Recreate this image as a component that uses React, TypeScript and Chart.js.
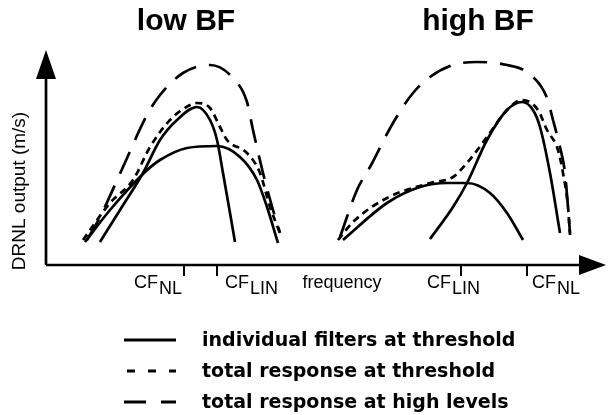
import React, { useEffect, useRef } from 'react';
import { Chart, registerables } from 'chart.js';

Chart.register(...registerables);

// Units: x = arbitrary frequency axis (0..560), y = arbitrary DRNL output (0..215)
const lowNarrowFilter: [number, number][] = [
  [54, 23], [74, 55], [97, 92], [114, 125], [131, 145], [151, 158], [164, 145], [171, 125], [177, 92], [184, 52], [189, 23],
];
const lowWideFilter: [number, number][] = [
  [39, 23], [64, 55], [99, 93], [114, 105], [141, 117], [171, 119], [194, 108], [211, 85], [221, 58], [232, 22],
];
const lowTotalThreshold: [number, number][] = [
  [37, 25], [64, 62], [87, 85], [104, 118], [124, 145], [144, 160], [151, 162], [164, 157], [174, 138], [181, 125], [201, 112], [214, 92], [224, 58], [234, 32],
];
const lowTotalHigh: [number, number][] = [
  [41, 25], [54, 48], [77, 98], [101, 150], [114, 170], [137, 192], [164, 200], [187, 187], [201, 163], [207, 135], [217, 92], [227, 55], [234, 32],
];
const highWideFilter: [number, number][] = [
  [297, 25], [341, 62], [374, 78], [401, 82], [421, 82], [444, 72], [461, 52], [477, 25],
];
const highNarrowFilter: [number, number][] = [
  [384, 26], [407, 58], [421, 82], [441, 125], [461, 155], [476, 163], [487, 155], [494, 138], [504, 92], [514, 32],
];
const highTotalThreshold: [number, number][] = [
  [292, 25], [307, 43], [341, 67], [384, 82], [407, 88], [421, 102], [441, 128], [461, 155], [476, 165], [492, 155], [501, 135], [512, 115], [517, 92], [522, 58], [524, 30],
];
const highTotalHigh: [number, number][] = [
  [294, 28], [311, 75], [324, 98], [347, 142], [367, 172], [384, 188], [407, 200], [431, 203], [461, 200], [482, 192], [501, 167], [507, 145], [514, 118], [519, 92], [522, 58], [524, 32],
];

const tickValues = [138, 171, 415, 481];
const tickMain = ['CF', 'CF', 'CF', 'CF'];
const tickSub = ['NL', 'LIN', 'LIN', 'NL'];
const axisWord = 'frequency';
const axisWordValue = 296;
const yAxisLabel = 'DRNL output (m/s)';
const panelTitles = ['low BF', 'high BF'];
const panelTitleValues = [140, 432];
const legendLabels = [
  'individual filters at threshold',
  'total response at threshold',
  'total response at high levels',
];

const SOLID: number[] = [];
const SHORT = [7, 5];
const LONG = [24, 13];

function ds(data: [number, number][], dash: number[]) {
  return {
    data,
    borderColor: '#000',
    borderWidth: 2.7,
    borderDash: dash,
    pointRadius: 0,
    fill: false,
    cubicInterpolationMode: 'monotone' as const,
  };
}

const decorPlugin = {
  id: 'decor',
  afterDraw(chart: any) {
    const ctx: CanvasRenderingContext2D = chart.ctx;
    const xs = chart.scales.x;
    const ys = chart.scales.y;
    const x0 = xs.getPixelForValue(0);
    const y0 = ys.getPixelForValue(0);
    const yTop = ys.getPixelForValue(ys.max);
    const xRight = xs.getPixelForValue(xs.max);
    ctx.save();
    ctx.fillStyle = '#000';
    ctx.strokeStyle = '#000';
    ctx.setLineDash([]);
    // axes
    ctx.lineWidth = 2.7;
    ctx.beginPath();
    ctx.moveTo(x0, y0);
    ctx.lineTo(x0, yTop + 26);
    ctx.moveTo(x0, y0);
    ctx.lineTo(xRight - 24, y0);
    ctx.stroke();
    // arrowheads
    ctx.beginPath();
    ctx.moveTo(x0, yTop);
    ctx.lineTo(x0 - 10, yTop + 29);
    ctx.lineTo(x0 + 10, yTop + 29);
    ctx.closePath();
    ctx.fill();
    ctx.beginPath();
    ctx.moveTo(xRight, y0);
    ctx.lineTo(xRight - 27, y0 - 10);
    ctx.lineTo(xRight - 27, y0 + 10);
    ctx.closePath();
    ctx.fill();
    // ticks
    ctx.lineWidth = 2;
    tickValues.forEach((v) => {
      const px = xs.getPixelForValue(v);
      ctx.beginPath();
      ctx.moveTo(px, y0);
      ctx.lineTo(px, y0 + 11);
      ctx.stroke();
    });
    // tick labels with subscripts
    ctx.font = '18px Arial, "Liberation Sans", sans-serif';
    ctx.textBaseline = 'alphabetic';
    const base = y0 + 23;
    const offsets = [-2, 8, -34, 5];
    tickValues.forEach((v, i) => {
      const px = xs.getPixelForValue(v);
      const wMain = ctx.measureText(tickMain[i]).width;
      const wSub = ctx.measureText(tickSub[i]).width;
      const total = wMain + 1 + wSub;
      let start = px + offsets[i];
      if (i === 0) start = px + offsets[i] - total;
      ctx.textAlign = 'left';
      ctx.fillText(tickMain[i], start, base);
      ctx.fillText(tickSub[i], start + wMain + 1, base + 6);
    });
    ctx.textAlign = 'center';
    ctx.fillText(axisWord, xs.getPixelForValue(axisWordValue), base);
    // y label
    ctx.save();
    ctx.font = '19px Arial, "Liberation Sans", sans-serif';
    ctx.translate(20, 191);
    ctx.rotate(-Math.PI / 2);
    ctx.textAlign = 'center';
    ctx.textBaseline = 'middle';
    ctx.fillText(yAxisLabel, 0, 0);
    ctx.restore();
    // titles
    ctx.font = 'bold 30px Arial, "Liberation Sans", sans-serif';
    ctx.textAlign = 'center';
    ctx.textBaseline = 'alphabetic';
    panelTitles.forEach((t, i) => {
      ctx.fillText(t, xs.getPixelForValue(panelTitleValues[i]), 30);
    });
    // legend
    const dashes = [SOLID, [8, 13], [22, 15]];
    const rowsY = [340, 371, 402];
    ctx.font = 'bold 19px "DejaVu Sans", sans-serif';
    ctx.textAlign = 'left';
    ctx.textBaseline = 'middle';
    legendLabels.forEach((t, i) => {
      ctx.lineWidth = 3;
      ctx.setLineDash(dashes[i]);
      ctx.lineDashOffset = i === 1 ? -3 : 0;
      ctx.beginPath();
      ctx.moveTo(124, rowsY[i]);
      ctx.lineTo(176, rowsY[i]);
      ctx.stroke();
      ctx.setLineDash([]);
      ctx.fillText(t, 202, rowsY[i] + 1);
    });
    ctx.restore();
  },
};

export default function App() {
  const ref = useRef<HTMLCanvasElement>(null);
  useEffect(() => {
    document.body.style.margin = '0';
    document.body.style.background = '#fff';
    if (!ref.current) return;
    const chart = new Chart(ref.current, {
      type: 'line',
      data: {
        datasets: [
          ds(lowWideFilter, SOLID),
          ds(lowNarrowFilter, SOLID),
          ds(lowTotalThreshold, SHORT),
          ds(lowTotalHigh, LONG),
          ds(highWideFilter, SOLID),
          ds(highNarrowFilter, SOLID),
          ds(highTotalThreshold, SHORT),
          ds(highTotalHigh, LONG),
        ],
      },
      options: {
        responsive: false,
        animation: false,
        layout: { padding: { left: 46, right: 2, top: 50, bottom: 150 } },
        scales: {
          x: { type: 'linear', min: 0, max: 560, display: false },
          y: { type: 'linear', min: 0, max: 215, display: false },
        },
        plugins: { legend: { display: false }, tooltip: { enabled: false }, title: { display: false } },
      },
      plugins: [decorPlugin],
    });
    return () => chart.destroy();
  }, []);
  return (
    <div style={{ width: 608, height: 415, background: '#fff' }}>
      <canvas ref={ref} width={608} height={415} />
    </div>
  );
}
